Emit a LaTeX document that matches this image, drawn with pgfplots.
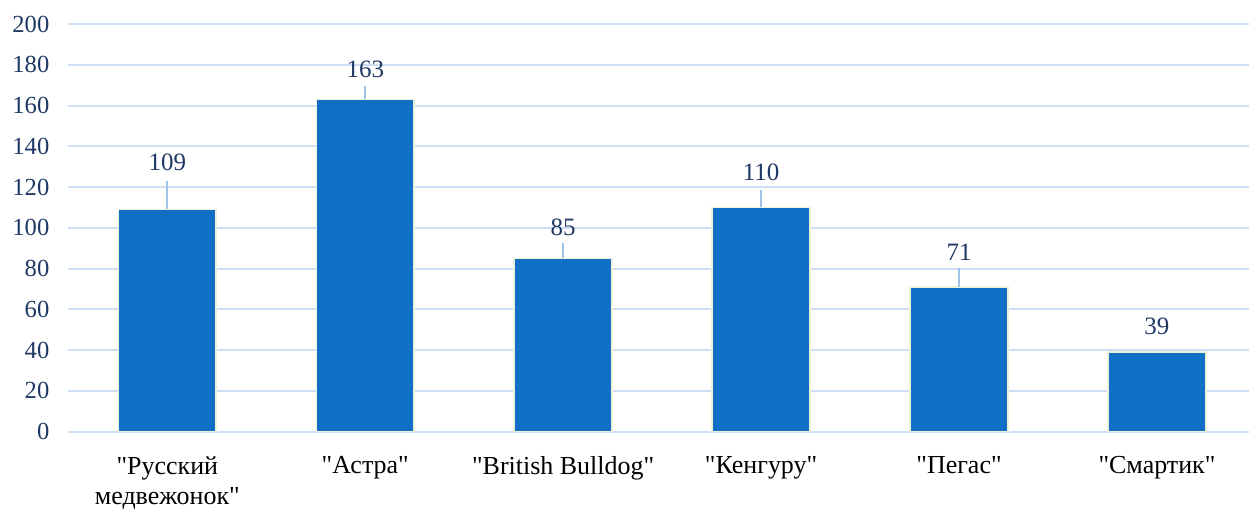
\documentclass[border=0pt]{standalone}
\usepackage{fontspec}
\setmainfont{Liberation Serif}[Ligatures=TeXOff]
\usepackage{pgfplots}
\usepackage{pgfplotstable}
\pgfplotsset{compat=1.18}

\definecolor{barblue}{HTML}{1170C6}
\definecolor{barrim}{HTML}{EEF1DA}
\definecolor{gridblue}{HTML}{CFDFF3}
\definecolor{leader}{HTML}{9DC3E6}
\definecolor{navy}{HTML}{1F3864}

% x: position, y: value, e: leader length, ly: label centre
\pgfplotstableread{
x y   e    ly
0 109 14.0 131.9
1 163 6.6  177.5
2 85  7.6  100.0
3 110 8.6  127.0
4 71  9.4  88.2
5 39  0    51.5
}\sales

\begin{document}
\begin{tikzpicture}
\begin{axis}[
    scale only axis,
    width=590.8pt,
    height=204pt,
    xmin=-0.5, xmax=5.465,
    ymin=0, ymax=200,
    ytick={0,20,...,200},
    xtick={0,1,2,3,4,5},
    xticklabels={{"Русский\\медвежонок"},{"Астра"},{"British Bulldog"},{"Кенгуру"},{"Пегас"},{"Смартик"}},
    axis line style={draw=none},
    major tick length=0pt,
    ymajorgrids=true,
    grid style={gridblue, line width=1pt},
    /pgf/number format/assume math mode=true,
    yticklabel style={font=\fontsize{12.3}{14}\selectfont, text=navy, xshift=-6pt},
    xticklabel style={font=\fontsize{13}{14.8}\selectfont, align=center, yshift=-9pt},
    clip=false,
]
\addplot[ybar, bar width=49pt, fill=barblue, draw=barrim, line width=0.8pt]
    table[x=x, y=y] {\sales};
\addplot[draw=none, mark=none, forget plot,
    error bars/.cd, y dir=plus, y explicit,
    error mark=none, error bar style={leader, line width=1pt}]
    table[x=x, y=y, y error=e] {\sales};
\addplot[only marks, mark=*, mark size=0pt, mark options={draw=none, fill=none},
    nodes near coords, point meta=explicit symbolic,
    nodes near coords style={anchor=center, text=navy, font=\fontsize{12.5}{14}\selectfont}]
    table[x=x, y=ly, meta=y] {\sales};
\path (rel axis cs:-0.0579,-0.1838) rectangle (rel axis cs:1,1.0588);
\end{axis}
\end{tikzpicture}
\end{document}
